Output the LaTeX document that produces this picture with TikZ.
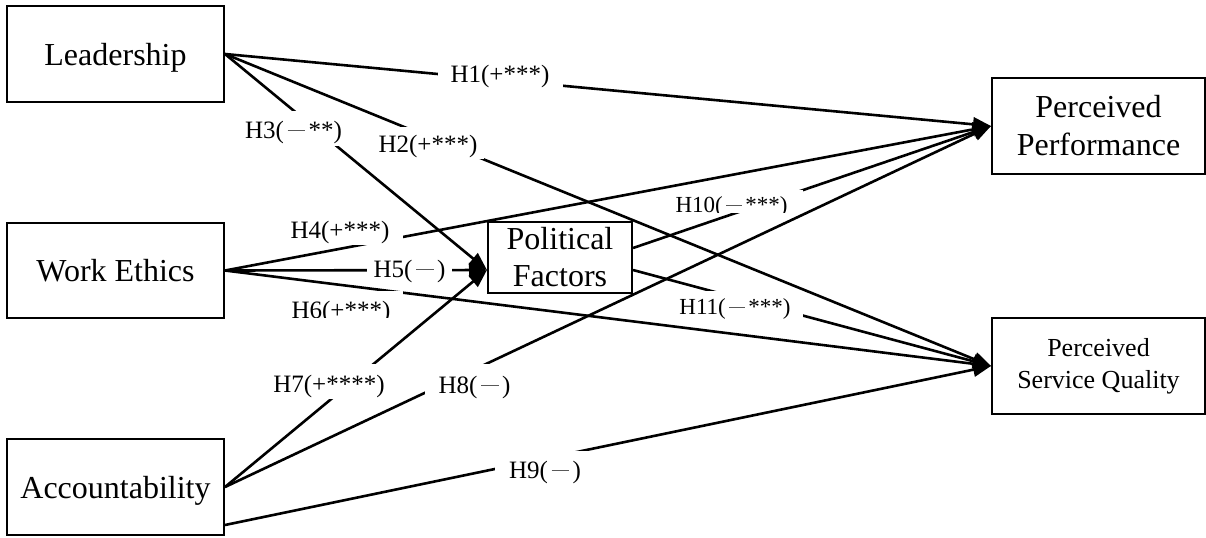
\documentclass[tikz,border=0pt]{standalone}
\usepackage{fontspec}
\setmainfont{Liberation Serif}
\usetikzlibrary{arrows.meta,calc}
\newcommand{\hypmin}{\hspace{0.14em}{\color{black!65}\rule[0.27em]{0.7em}{0.04em}}\hspace{0.14em}}
\begin{document}
\begin{tikzpicture}[x=0.5pt,y=-0.5pt,
  box/.style={draw=black,line width=1pt,fill=white,inner sep=1pt,align=center,font=\fontsize{16}{19}\selectfont},
  conn/.style={line width=1.3pt,-{Triangle[length=9pt,width=7pt]}},
  lab/.style={fill=white,inner sep=0pt,anchor=base,font=\fontsize{12.5}{15}\selectfont},
  labs/.style={lab,font=\fontsize{11.5}{14}\selectfont}]
\fill[white] (0,0) rectangle (1206,537);
\useasboundingbox (0,0) rectangle (1206,537);

% boxes
\node[box,minimum width=108.5pt,minimum height=48pt,text depth=0pt] (L) at (115.5,54) {Leadership};
\node[box,minimum width=108.5pt,minimum height=47.5pt,text depth=0pt] (W) at (115.5,270.5) {Work Ethics};
\node[box,minimum width=108.5pt,minimum height=48pt,text depth=0pt] (A) at (115.5,487) {Accountability};
\node[box,minimum width=72pt,minimum height=35.5pt,font=\fontsize{16}{18.5}\selectfont] (PF) at (560,257.5) {Political\\Factors};
\node[box,minimum width=106.5pt,minimum height=48pt] (PP) at (1098.5,126) {Perceived\\Performance};
\node[box,minimum width=106.5pt,minimum height=48pt,font=\fontsize{13}{16}\selectfont] (PSQ) at (1098.5,366) {Perceived\\Service Quality};

% anchor points
\coordinate (Ab) at ($(A.south east)+(0,-11)$);
\coordinate (PFin) at ($(PF.west)+(0,12.5)$);
\coordinate (PFo1) at ($(PF.east)+(0,-9.5)$);
\coordinate (PFo2) at ($(PF.east)+(0,12.5)$);

% connectors
\draw[conn] (L.east) -- (PP.west);   % H1
\draw[conn] (L.east) -- (PSQ.west);  % H2
\draw[conn] (L.east) -- (PFin);      % H3
\draw[conn] (W.east) -- (PP.west);   % H4
\draw[conn] (W.east) -- (PFin);      % H5
\draw[conn] (W.east) -- (PSQ.west);  % H6
\draw[conn] (A.east) -- (PFin);      % H7
\draw[conn] (A.east) -- (PP.west);   % H8
\draw[conn] (Ab) -- (PSQ.west);      % H9
\draw[conn] (PFo1) -- (PP.west);     % H10
\draw[conn] (PFo2) -- (PSQ.west);    % H11

% labels
\node[lab,minimum width=62.5pt,text height=10pt,text depth=3.5pt] (h1) at (500,82) {H1(+***)};
\node[lab,minimum width=56pt,text height=12.5pt,text depth=3.5pt] (h2) at (428,152) {H2(+***)};
\node[lab,minimum width=53.5pt,text height=13.5pt,text depth=4pt] (h3) at (293.5,138) {H3(\hypmin**)};
\node[lab,minimum width=63pt,text height=10pt,text depth=3.5pt] (h4) at (340,238) {H4(+***)};
\node[lab,minimum width=42.5pt,text height=10pt,text depth=3.5pt] (h5) at (409.5,277) {H5(\hypmin)};
\begin{scope}
  \clip (270,280) rectangle (420,317.5);
  \node[lab,minimum width=62pt,text height=13.5pt,text depth=3.5pt] (h6) at (341,318) {H6(+***)};
\end{scope}
\node[lab,minimum width=63pt,text height=14pt,text depth=3.25pt] (h7) at (329,392) {H7(+****)};
\node[lab,minimum width=49.5pt,text height=14.5pt,text depth=3.5pt] (h8) at (474.5,393) {H8(\hypmin)};
\node[lab,minimum width=50pt,text height=13.5pt,text depth=3.5pt] (h9) at (545,478) {H9(\hypmin)};
\begin{scope}
  \clip (640,180) rectangle (820,212.5);
  \node[labs,minimum width=71.5pt,text height=11pt,text depth=3.5pt] (h10) at (731.5,212) {H10(\hypmin***)};
\end{scope}
\node[labs,minimum width=68pt,text height=11.75pt,text depth=3pt] (h11) at (735,314) {H11(\hypmin***)};
\end{tikzpicture}
\end{document}
